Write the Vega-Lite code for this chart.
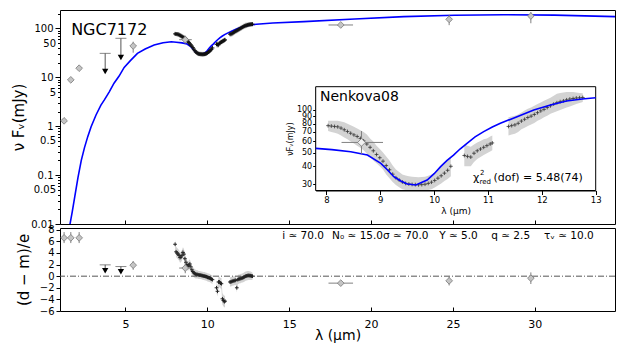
{
  "$schema": "https://vega.github.io/schema/vega-lite/v6.json",
  "padding": {"left": 11, "top": 8, "right": 12, "bottom": 0},
  "spacing": 4,
  "bounds": "flush",
  "config": {
    "font": "DejaVu Sans",
    "view": {"stroke": "black", "strokeWidth": 1},
    "axis": {"grid": false, "labelFont": "DejaVu Sans", "titleFont": "DejaVu Sans", "labelColor": "black", "titleColor": "black", "tickColor": "black", "domainColor": "black", "titleFontWeight": "normal", "labelFontSize": 10, "labelOverlap": false, "labelFlush": false}
  },
  "datasets": {
    "model": [
      {"lam": 1.55, "f": 0.007}, {"lam": 1.6, "f": 0.0095}, {"lam": 1.75, "f": 0.018}, {"lam": 1.9, "f": 0.036}, {"lam": 2.1, "f": 0.09},
      {"lam": 2.3, "f": 0.2}, {"lam": 2.5, "f": 0.37}, {"lam": 2.7, "f": 0.62}, {"lam": 2.9, "f": 0.98},
      {"lam": 3.2, "f": 1.7}, {"lam": 3.5, "f": 2.7}, {"lam": 3.72, "f": 3.5}, {"lam": 4.0, "f": 5.0},
      {"lam": 4.3, "f": 7.6}, {"lam": 4.6, "f": 10.5}, {"lam": 4.92, "f": 16}, {"lam": 5.3, "f": 22},
      {"lam": 5.73, "f": 31}, {"lam": 6.2, "f": 38}, {"lam": 6.75, "f": 46}, {"lam": 7.3, "f": 51},
      {"lam": 7.8, "f": 53.6}, {"lam": 8.1, "f": 52.5}, {"lam": 8.45, "f": 50.7}, {"lam": 8.76, "f": 48.1},
      {"lam": 9.01, "f": 42}, {"lam": 9.13, "f": 37.8}, {"lam": 9.25, "f": 33.8}, {"lam": 9.38, "f": 31.5},
      {"lam": 9.5, "f": 30}, {"lam": 9.66, "f": 29.5}, {"lam": 9.87, "f": 32}, {"lam": 10.0, "f": 35.5},
      {"lam": 10.12, "f": 39.8}, {"lam": 10.24, "f": 44}, {"lam": 10.36, "f": 48}, {"lam": 10.48, "f": 53},
      {"lam": 10.61, "f": 58.2}, {"lam": 10.76, "f": 64.5}, {"lam": 10.92, "f": 70.3}, {"lam": 11.08, "f": 75.8},
      {"lam": 11.23, "f": 80.5}, {"lam": 11.54, "f": 89.7}, {"lam": 11.85, "f": 100}, {"lam": 12.16, "f": 108.5},
      {"lam": 12.46, "f": 115.8}, {"lam": 12.75, "f": 119.5}, {"lam": 13.0, "f": 122},
      {"lam": 14.0, "f": 130}, {"lam": 15.9, "f": 138}, {"lam": 19.0, "f": 156}, {"lam": 22.0, "f": 175},
      {"lam": 25.1, "f": 186}, {"lam": 28.1, "f": 191}, {"lam": 31.2, "f": 188}, {"lam": 35.0, "f": 175}
    ],
    "spec": [
      {"seg": 1, "lam": 8.03, "f": 77.5, "lo": 71, "hi": 84, "r": 5.5, "rlo": 4.6, "rhi": 6.3},
      {"seg": 1, "lam": 8.09, "f": 77, "lo": 70, "hi": 84, "r": 4.2, "rlo": 3.3, "rhi": 5.1},
      {"seg": 1, "lam": 8.15, "f": 76.5, "lo": 69, "hi": 84, "r": 4.0, "rlo": 3.1, "rhi": 4.9},
      {"seg": 1, "lam": 8.21, "f": 76, "lo": 68, "hi": 84, "r": 3.8, "rlo": 2.9, "rhi": 4.7},
      {"seg": 1, "lam": 8.27, "f": 74.5, "lo": 66, "hi": 83, "r": 3.6, "rlo": 2.7, "rhi": 4.5},
      {"seg": 1, "lam": 8.33, "f": 72.5, "lo": 64, "hi": 82, "r": 3.2, "rlo": 2.3, "rhi": 4.1},
      {"seg": 1, "lam": 8.39, "f": 70.5, "lo": 62, "hi": 80, "r": 3.3, "rlo": 2.4, "rhi": 4.2},
      {"seg": 1, "lam": 8.45, "f": 68.5, "lo": 60, "hi": 78, "r": 3.6, "rlo": 2.7, "rhi": 4.5},
      {"seg": 1, "lam": 8.51, "f": 66.7, "lo": 58, "hi": 76, "r": 4.1, "rlo": 3.2, "rhi": 5.0},
      {"seg": 1, "lam": 8.57, "f": 65, "lo": 56, "hi": 74, "r": 3.8, "rlo": 2.9, "rhi": 4.7},
      {"seg": 1, "lam": 8.63, "f": 63, "lo": 54, "hi": 72, "r": 3.0, "rlo": 2.1, "rhi": 3.9},
      {"seg": 1, "lam": 8.69, "f": 60.5, "lo": 52, "hi": 70, "r": 2.4, "rlo": 1.5, "rhi": 3.3},
      {"seg": 1, "lam": 8.75, "f": 57.5, "lo": 49, "hi": 67, "r": 2.0, "rlo": 1.2, "rhi": 2.8},
      {"seg": 1, "lam": 8.81, "f": 54.5, "lo": 47, "hi": 63, "r": 1.7, "rlo": 0.9, "rhi": 2.5},
      {"seg": 1, "lam": 8.87, "f": 51.5, "lo": 44, "hi": 60, "r": 1.9, "rlo": 1.1, "rhi": 2.7},
      {"seg": 1, "lam": 8.93, "f": 48.5, "lo": 42, "hi": 56, "r": 2.1, "rlo": 1.3, "rhi": 2.9},
      {"seg": 1, "lam": 8.99, "f": 46, "lo": 40, "hi": 53, "r": 1.6, "rlo": 0.8, "rhi": 2.4},
      {"seg": 1, "lam": 9.05, "f": 43.5, "lo": 38, "hi": 50, "r": 1.1, "rlo": 0.3, "rhi": 1.9},
      {"seg": 1, "lam": 9.11, "f": 40.5, "lo": 35, "hi": 47, "r": 0.8, "rlo": 0.0, "rhi": 1.6},
      {"seg": 1, "lam": 9.17, "f": 37.8, "lo": 33, "hi": 44, "r": 0.6, "rlo": -0.2, "rhi": 1.4},
      {"seg": 1, "lam": 9.23, "f": 35.2, "lo": 31, "hi": 40.5, "r": 0.45, "rlo": -0.3, "rhi": 1.2},
      {"seg": 1, "lam": 9.29, "f": 33.2, "lo": 29.5, "hi": 38, "r": 0.35, "rlo": -0.4, "rhi": 1.1},
      {"seg": 1, "lam": 9.35, "f": 32, "lo": 28.5, "hi": 36.5, "r": 0.3, "rlo": -0.4, "rhi": 1.0},
      {"seg": 1, "lam": 9.41, "f": 31, "lo": 27.5, "hi": 35, "r": 0.28, "rlo": -0.4, "rhi": 1.0},
      {"seg": 1, "lam": 9.47, "f": 30.3, "lo": 27.2, "hi": 34.5, "r": 0.22, "rlo": -0.5, "rhi": 0.9},
      {"seg": 1, "lam": 9.53, "f": 30, "lo": 27.2, "hi": 34, "r": 0.2, "rlo": -0.5, "rhi": 0.9},
      {"seg": 1, "lam": 9.59, "f": 29.8, "lo": 27.2, "hi": 33.8, "r": 0.17, "rlo": -0.5, "rhi": 0.85},
      {"seg": 1, "lam": 9.65, "f": 29.7, "lo": 27.2, "hi": 33.6, "r": 0.12, "rlo": -0.55, "rhi": 0.8},
      {"seg": 1, "lam": 9.71, "f": 29.6, "lo": 27.2, "hi": 33.5, "r": 0.08, "rlo": -0.6, "rhi": 0.75},
      {"seg": 1, "lam": 9.77, "f": 29.7, "lo": 27.2, "hi": 33.6, "r": 0.03, "rlo": -0.65, "rhi": 0.7},
      {"seg": 1, "lam": 9.83, "f": 29.9, "lo": 27.2, "hi": 33.8, "r": 0.0, "rlo": -0.7, "rhi": 0.7},
      {"seg": 1, "lam": 9.89, "f": 30.3, "lo": 27.2, "hi": 34.3, "r": -0.05, "rlo": -0.75, "rhi": 0.65},
      {"seg": 1, "lam": 9.95, "f": 30.9, "lo": 27.5, "hi": 35, "r": -0.1, "rlo": -0.8, "rhi": 0.6},
      {"seg": 1, "lam": 10.01, "f": 31.8, "lo": 28.3, "hi": 36, "r": -0.2, "rlo": -0.9, "rhi": 0.5},
      {"seg": 1, "lam": 10.07, "f": 33, "lo": 29.3, "hi": 37.5, "r": -0.25, "rlo": -0.95, "rhi": 0.45},
      {"seg": 1, "lam": 10.13, "f": 34.3, "lo": 30.3, "hi": 39.5, "r": -0.3, "rlo": -1.0, "rhi": 0.4},
      {"seg": 1, "lam": 10.19, "f": 35.8, "lo": 31.5, "hi": 41.5, "r": -0.4, "rlo": -1.1, "rhi": 0.3},
      {"seg": 1, "lam": 10.25, "f": 37.5, "lo": 32.5, "hi": 44, "r": -0.5, "rlo": -1.2, "rhi": 0.2},
      {"seg": 1, "lam": 10.31, "f": 40, "lo": 34, "hi": 47, "r": -0.6, "rlo": -1.4, "rhi": 0.2},
      {"seg": 2, "lam": 10.56, "f": 47.7, "lo": 40, "hi": 57, "r": -2.0, "rlo": -2.9, "rhi": -1.1},
      {"seg": 2, "lam": 10.62, "f": 47, "lo": 40, "hi": 56, "r": -2.6, "rlo": -3.5, "rhi": -1.7},
      {"seg": 2, "lam": 10.68, "f": 46.5, "lo": 40, "hi": 55, "r": -1.0, "rlo": -1.9, "rhi": -0.1},
      {"seg": 2, "lam": 10.74, "f": 49.5, "lo": 43, "hi": 57, "r": -1.0, "rlo": -1.9, "rhi": -0.1},
      {"seg": 2, "lam": 10.80, "f": 51.5, "lo": 45, "hi": 59, "r": -1.2, "rlo": -2.1, "rhi": -0.3},
      {"seg": 2, "lam": 10.86, "f": 53, "lo": 46.5, "hi": 60.5, "r": -1.3, "rlo": -2.3, "rhi": -0.3},
      {"seg": 2, "lam": 10.92, "f": 54.5, "lo": 48, "hi": 62, "r": -3.9, "rlo": -4.9, "rhi": -2.9},
      {"seg": 2, "lam": 10.98, "f": 56, "lo": 49.5, "hi": 63, "r": -4.2, "rlo": -5.2, "rhi": -3.2},
      {"seg": 2, "lam": 11.04, "f": 57.5, "lo": 51, "hi": 65, "r": -4.4, "rlo": -5.4, "rhi": -3.4},
      {"seg": 2, "lam": 11.08, "f": 58.5, "lo": 52, "hi": 66, "r": -4.3, "rlo": -5.3, "rhi": -3.3},
      {"seg": 3, "lam": 11.38, "f": 76.5, "lo": 66, "hi": 89, "r": -1.0, "rlo": -1.8, "rhi": -0.2},
      {"seg": 3, "lam": 11.44, "f": 77.5, "lo": 67, "hi": 90, "r": -1.0, "rlo": -1.8, "rhi": -0.2},
      {"seg": 3, "lam": 11.50, "f": 78.5, "lo": 68, "hi": 91, "r": -0.9, "rlo": -1.7, "rhi": -0.1},
      {"seg": 3, "lam": 11.56, "f": 80.5, "lo": 70, "hi": 93, "r": -0.85, "rlo": -1.6, "rhi": -0.1},
      {"seg": 3, "lam": 11.62, "f": 83.5, "lo": 73, "hi": 96, "r": -0.8, "rlo": -1.6, "rhi": 0.0},
      {"seg": 3, "lam": 11.68, "f": 86, "lo": 75, "hi": 99, "r": -0.75, "rlo": -1.5, "rhi": 0.0},
      {"seg": 3, "lam": 11.74, "f": 88.5, "lo": 77, "hi": 102, "r": -0.7, "rlo": -1.5, "rhi": 0.1},
      {"seg": 3, "lam": 11.80, "f": 90.5, "lo": 79, "hi": 104, "r": -2.0, "rlo": -2.8, "rhi": -1.2},
      {"seg": 3, "lam": 11.86, "f": 93, "lo": 81, "hi": 107, "r": -0.6, "rlo": -1.4, "rhi": 0.2},
      {"seg": 3, "lam": 11.92, "f": 95.7, "lo": 84, "hi": 110, "r": -0.5, "rlo": -1.3, "rhi": 0.3},
      {"seg": 3, "lam": 11.98, "f": 98.5, "lo": 86, "hi": 113, "r": -0.45, "rlo": -1.2, "rhi": 0.3},
      {"seg": 3, "lam": 12.04, "f": 101, "lo": 89, "hi": 116, "r": -0.4, "rlo": -1.2, "rhi": 0.4},
      {"seg": 3, "lam": 12.10, "f": 104, "lo": 91, "hi": 119, "r": -0.35, "rlo": -1.1, "rhi": 0.4},
      {"seg": 3, "lam": 12.16, "f": 107, "lo": 94, "hi": 122, "r": -0.3, "rlo": -1.1, "rhi": 0.5},
      {"seg": 3, "lam": 12.22, "f": 110, "lo": 96, "hi": 126, "r": -0.2, "rlo": -1.0, "rhi": 0.6},
      {"seg": 3, "lam": 12.28, "f": 112.5, "lo": 98, "hi": 130, "r": -0.1, "rlo": -0.9, "rhi": 0.7},
      {"seg": 3, "lam": 12.34, "f": 114.5, "lo": 100, "hi": 132, "r": 0.0, "rlo": -0.8, "rhi": 0.8},
      {"seg": 3, "lam": 12.40, "f": 116, "lo": 102, "hi": 133, "r": 0.05, "rlo": -0.75, "rhi": 0.85},
      {"seg": 3, "lam": 12.46, "f": 118, "lo": 104, "hi": 134, "r": 0.1, "rlo": -0.7, "rhi": 0.9},
      {"seg": 3, "lam": 12.52, "f": 119.5, "lo": 106, "hi": 134, "r": 0.12, "rlo": -0.65, "rhi": 0.9},
      {"seg": 3, "lam": 12.58, "f": 120.5, "lo": 108, "hi": 134, "r": 0.1, "rlo": -0.65, "rhi": 0.85},
      {"seg": 3, "lam": 12.64, "f": 121.5, "lo": 110, "hi": 133, "r": 0.08, "rlo": -0.65, "rhi": 0.8},
      {"seg": 3, "lam": 12.70, "f": 122, "lo": 112, "hi": 132, "r": 0.03, "rlo": -0.65, "rhi": 0.7},
      {"seg": 3, "lam": 12.76, "f": 122.5, "lo": 114, "hi": 131, "r": 0.0, "rlo": -0.6, "rhi": 0.6}
    ],
    "phot": [
      {"lam": 1.25, "f": 1.29, "flo": 1.2, "fhi": 1.4, "r": 6.6, "rlo": 5.7, "rhi": 7.6},
      {"lam": 1.66, "f": 8.9, "flo": 8.3, "fhi": 9.6, "r": 6.6, "rlo": 5.7, "rhi": 7.6},
      {"lam": 2.17, "f": 15.4, "flo": 14.4, "fhi": 16.5, "r": 6.6, "rlo": 5.7, "rhi": 7.6},
      {"lam": 5.47, "f": 43.9, "flo": 32, "fhi": 53.7, "r": 1.9, "rlo": 1.1, "rhi": 2.6},
      {"lam": 8.65, "f": 59, "flo": 49, "fhi": 71, "xlo": 8.28, "xhi": 9.05, "r": 1.4, "rlo": 0.5, "rhi": 2.3},
      {"lam": 18.15, "f": 118, "flo": 112, "fhi": 124, "xlo": 17.4, "xhi": 18.9, "r": -1.2, "rlo": -1.5, "rhi": -0.9},
      {"lam": 24.77, "f": 154, "flo": 117, "fhi": 191, "r": -0.8, "rlo": -1.6, "rhi": 0.0},
      {"lam": 29.76, "f": 180, "flo": 128, "fhi": 217, "r": -0.35, "rlo": -1.35, "rhi": 0.65}
    ],
    "ul": [
      {"lam": 3.76, "ul": 31, "tip": 13.2, "rul": 1.95, "rtip": 0.92},
      {"lam": 4.72, "ul": 63, "tip": 25.6, "rul": 1.66, "rtip": 0.75}
    ]
  },
  "vconcat": [
    {
      "width": 555,
      "height": 214,
      "resolve": {"scale": {"x": "independent", "y": "independent"}, "axis": {"x": "independent", "y": "independent"}},
      "layer": [
        {
          "layer": [
            {
              "data": {"name": "spec"},
              "mark": {"type": "area", "color": "#d3d3d3", "clip": true},
              "encoding": {
                "x": {"field": "lam", "type": "quantitative", "scale": {"domain": [1, 34.9], "nice": false, "zero": false},
                      "axis": {"orient": "bottom", "values": [5, 10, 15, 20, 25, 30], "labels": false, "domain": false, "tickSize": -4, "title": null}},
                "y": {"field": "lo", "type": "quantitative", "scale": {"type": "log", "domain": [0.01, 239], "nice": false},
                      "axis": {"orient": "left", "domain": false, "title": "ν Fᵥ(mJy)", "titleFontSize": 15, "titlePadding": 4, "labelPadding": 2, "labelOverlap": false,
                               "values": [0.01, 0.02, 0.03, 0.04, 0.05, 0.06, 0.07, 0.08, 0.09, 0.1, 0.2, 0.3, 0.4, 0.5, 0.6, 0.7, 0.8, 0.9, 1, 2, 3, 4, 5, 6, 7, 8, 9, 10, 20, 30, 40, 50, 60, 70, 80, 90, 100, 200],
                               "labelExpr": "indexof([0.01, 0.05, 0.1, 0.5, 1, 5, 10, 50, 100], datum.value) >= 0 ? '' + datum.value : ''",
                               "tickSize": {"condition": {"test": "indexof([0.01, 0.1, 1, 10, 100], datum.value) >= 0", "value": 5}, "value": 2.5}}},
                "y2": {"field": "hi"},
                "detail": {"field": "seg"}
              }
            },
            {
              "data": {"name": "model"},
              "mark": {"type": "line", "color": "#0000ff", "strokeWidth": 1.6, "clip": true},
              "encoding": {
                "x": {"field": "lam", "type": "quantitative"},
                "y": {"field": "f", "type": "quantitative"}
              }
            },
            {
              "data": {"name": "spec"},
              "mark": {"type": "point", "shape": "M-1,0L1,0M0,-1L0,1", "filled": false, "stroke": "#111111", "strokeWidth": 1, "size": 16, "opacity": 1},
              "encoding": {
                "x": {"field": "lam", "type": "quantitative"},
                "y": {"field": "f", "type": "quantitative"}
              }
            },
            {
              "data": {"name": "phot"},
              "mark": {"type": "rule", "color": "#808080", "strokeWidth": 1},
              "encoding": {
                "x": {"field": "lam", "type": "quantitative"},
                "y": {"field": "flo", "type": "quantitative"},
                "y2": {"field": "fhi"}
              }
            },
            {
              "data": {"name": "phot"},
              "transform": [{"filter": "isValid(datum.xlo)"}],
              "mark": {"type": "rule", "color": "#808080", "strokeWidth": 1},
              "encoding": {
                "x": {"field": "xlo", "type": "quantitative"},
                "x2": {"field": "xhi"},
                "y": {"field": "f", "type": "quantitative"}
              }
            },
            {
              "data": {"name": "phot"},
              "mark": {"type": "point", "shape": "diamond", "filled": true, "fill": "#c4c4c4", "stroke": "#7a7a7a", "strokeWidth": 0.8, "size": 45, "opacity": 1},
              "encoding": {
                "x": {"field": "lam", "type": "quantitative"},
                "y": {"field": "f", "type": "quantitative"}
              }
            },
            {
              "data": {"name": "ul"},
              "mark": {"type": "rule", "color": "#555555", "strokeWidth": 1},
              "encoding": {
                "x": {"field": "lam", "type": "quantitative"},
                "y": {"field": "ul", "type": "quantitative"},
                "y2": {"field": "tip"}
              }
            },
            {
              "data": {"name": "ul"},
              "mark": {"type": "tick", "orient": "horizontal", "color": "#555555", "thickness": 1, "size": 11},
              "encoding": {
                "x": {"field": "lam", "type": "quantitative"},
                "y": {"field": "ul", "type": "quantitative"}
              }
            },
            {
              "data": {"name": "ul"},
              "mark": {"type": "point", "shape": "triangle-down", "filled": true, "color": "black", "size": 40, "opacity": 1},
              "encoding": {
                "x": {"field": "lam", "type": "quantitative"},
                "y": {"field": "tip", "type": "quantitative"}
              }
            },
            {
              "data": {"values": [{"label": "NGC7172"}]},
              "mark": {"type": "text", "align": "left", "baseline": "middle", "fontSize": 16, "color": "black"},
              "encoding": {
                "x": {"datum": 1.68, "type": "quantitative"},
                "y": {"datum": 93, "type": "quantitative"},
                "text": {"field": "label"}
              }
            }
          ]
        },
        {
          "layer": [
            {
              "data": {"values": [{"box": "inset"}]},
              "mark": {"type": "rect", "fill": "white", "stroke": "black", "strokeWidth": 1},
              "encoding": {
                "x": {"datum": 7.8, "type": "quantitative",
                      "scale": {"domain": [7.8, 13], "range": [255.7, 535.7], "nice": false, "zero": false},
                      "axis": {"orient": "bottom", "offset": -33.5, "values": [8, 9, 10, 11, 12, 13], "format": "d", "tickSize": 4, "labelFontSize": 8.5, "labelPadding": 1, "title": "λ (μm)", "titleFontSize": 9, "titlePadding": 2}},
                "x2": {"datum": 13},
                "y": {"datum": 27, "type": "quantitative",
                      "scale": {"type": "log", "domain": [27, 146], "range": [180.5, 76.7], "nice": false},
                      "axis": {"orient": "left", "offset": -255.7, "values": [30, 40, 50, 60, 70, 80, 90, 100], "format": "d", "labelOverlap": false, "tickSize": 3, "labelFontSize": 8, "labelPadding": 1, "title": "νFᵥ(mJy)", "titleFontSize": 8, "titlePadding": 2}},
                "y2": {"datum": 146}
              }
            },
            {
              "data": {"name": "spec"},
              "mark": {"type": "area", "color": "#d3d3d3"},
              "encoding": {
                "x": {"field": "lam", "type": "quantitative"},
                "y": {"field": "lo", "type": "quantitative"},
                "y2": {"field": "hi"},
                "detail": {"field": "seg"}
              }
            },
            {
              "data": {"name": "spec"},
              "mark": {"type": "point", "shape": "M-1,0L1,0M0,-1L0,1", "filled": false, "stroke": "#333333", "strokeWidth": 0.8, "size": 14, "opacity": 1},
              "encoding": {
                "x": {"field": "lam", "type": "quantitative"},
                "y": {"field": "f", "type": "quantitative"}
              }
            },
            {
              "data": {"name": "model"},
              "transform": [{"filter": "datum.lam >= 7.8 && datum.lam <= 13"}],
              "mark": {"type": "line", "color": "#0000ff", "strokeWidth": 1.6},
              "encoding": {
                "x": {"field": "lam", "type": "quantitative"},
                "y": {"field": "f", "type": "quantitative"}
              }
            },
            {
              "data": {"name": "phot"},
              "transform": [{"filter": "datum.lam > 8 && datum.lam < 9"}],
              "mark": {"type": "rule", "color": "#808080", "strokeWidth": 1},
              "encoding": {
                "x": {"field": "lam", "type": "quantitative"},
                "y": {"field": "flo", "type": "quantitative"},
                "y2": {"field": "fhi"}
              }
            },
            {
              "data": {"name": "phot"},
              "transform": [{"filter": "datum.lam > 8 && datum.lam < 9"}],
              "mark": {"type": "rule", "color": "#808080", "strokeWidth": 1},
              "encoding": {
                "x": {"field": "xlo", "type": "quantitative"},
                "x2": {"field": "xhi"},
                "y": {"field": "f", "type": "quantitative"}
              }
            },
            {
              "data": {"name": "phot"},
              "transform": [{"filter": "datum.lam > 8 && datum.lam < 9"}],
              "mark": {"type": "point", "shape": "diamond", "filled": true, "fill": "#f2f2f2", "stroke": "#7a7a7a", "strokeWidth": 0.8, "size": 60, "opacity": 1},
              "encoding": {
                "x": {"field": "lam", "type": "quantitative"},
                "y": {"field": "f", "type": "quantitative"}
              }
            },
            {
              "data": {"values": [{"label": "Nenkova08"}]},
              "mark": {"type": "text", "align": "left", "baseline": "middle", "fontSize": 14, "color": "black"},
              "encoding": {
                "x": {"datum": 7.88, "type": "quantitative"},
                "y": {"datum": 123, "type": "quantitative"},
                "text": {"field": "label"}
              }
            },
            {
              "data": {"values": [{"label": "χ"}]},
              "mark": {"type": "text", "align": "left", "baseline": "alphabetic", "fontSize": 11, "color": "black"},
              "encoding": {
                "x": {"datum": 10.72, "type": "quantitative"},
                "y": {"datum": 31.5, "type": "quantitative"},
                "text": {"field": "label"}
              }
            },
            {
              "data": {"values": [{"label": "2"}]},
              "mark": {"type": "text", "align": "left", "baseline": "alphabetic", "fontSize": 7, "dx": 7, "dy": -6, "color": "black"},
              "encoding": {
                "x": {"datum": 10.72, "type": "quantitative"},
                "y": {"datum": 31.5, "type": "quantitative"},
                "text": {"field": "label"}
              }
            },
            {
              "data": {"values": [{"label": "red"}]},
              "mark": {"type": "text", "align": "left", "baseline": "alphabetic", "fontSize": 7, "dx": 6.5, "dy": 3, "color": "black"},
              "encoding": {
                "x": {"datum": 10.72, "type": "quantitative"},
                "y": {"datum": 31.5, "type": "quantitative"},
                "text": {"field": "label"}
              }
            },
            {
              "data": {"values": [{"label": "(dof) = 5.48(74)"}]},
              "mark": {"type": "text", "align": "left", "baseline": "alphabetic", "fontSize": 11, "dx": 20.5, "color": "black"},
              "encoding": {
                "x": {"datum": 10.72, "type": "quantitative"},
                "y": {"datum": 31.5, "type": "quantitative"},
                "text": {"field": "label"}
              }
            }
          ]
        }
      ]
    },
    {
      "width": 555,
      "height": 83,
      "layer": [
        {
          "data": {"name": "spec"},
          "mark": {"type": "area", "color": "#d3d3d3"},
          "encoding": {
            "x": {"field": "lam", "type": "quantitative", "scale": {"domain": [1, 34.9], "nice": false, "zero": false},
                  "axis": {"orient": "bottom", "domain": false, "values": [5, 10, 15, 20, 25, 30], "labelOverlap": false, "tickSize": -4, "labelFontSize": 11, "labelPadding": 11, "title": "λ (μm)", "titleFontSize": 14, "titlePadding": -1}},
            "y": {"field": "rlo", "type": "quantitative",
                  "scale": {"domain": [-6, 8.3], "nice": false, "zero": false},
                  "axis": {"orient": "left", "domain": false, "values": [-6, -4, -2, 0, 2, 4, 6, 8], "tickCount": 8, "labelOverlap": false, "labelExpr": "format(datum.value, 'd')", "tickSize": 4, "labelPadding": 2, "title": "(d − m)/e", "titleFontSize": 15, "titlePadding": 8}},
            "y2": {"field": "rhi"},
            "detail": {"field": "seg"}
          }
        },
        {
          "data": {"values": [{"zero": 0}]},
          "mark": {"type": "rule", "color": "#555555", "strokeWidth": 1, "strokeDash": [6, 2, 1, 2]},
          "encoding": {
            "y": {"field": "zero", "type": "quantitative"}
          }
        },
        {
          "data": {"name": "spec"},
          "mark": {"type": "point", "shape": "M-1,0L1,0M0,-1L0,1", "filled": false, "stroke": "#222222", "strokeWidth": 1, "size": 14, "opacity": 1},
          "encoding": {
            "x": {"field": "lam", "type": "quantitative"},
            "y": {"field": "r", "type": "quantitative"}
          }
        },
        {
          "data": {"name": "phot"},
          "mark": {"type": "rule", "color": "#808080", "strokeWidth": 1},
          "encoding": {
            "x": {"field": "lam", "type": "quantitative"},
            "y": {"field": "rlo", "type": "quantitative"},
            "y2": {"field": "rhi"}
          }
        },
        {
          "data": {"name": "phot"},
          "transform": [{"filter": "isValid(datum.xlo)"}],
          "mark": {"type": "rule", "color": "#808080", "strokeWidth": 1},
          "encoding": {
            "x": {"field": "xlo", "type": "quantitative"},
            "x2": {"field": "xhi"},
            "y": {"field": "r", "type": "quantitative"}
          }
        },
        {
          "data": {"name": "phot"},
          "mark": {"type": "point", "shape": "diamond", "filled": true, "fill": "#c4c4c4", "stroke": "#7a7a7a", "strokeWidth": 0.8, "size": 45, "opacity": 1},
          "encoding": {
            "x": {"field": "lam", "type": "quantitative"},
            "y": {"field": "r", "type": "quantitative"}
          }
        },
        {
          "data": {"name": "ul"},
          "mark": {"type": "rule", "color": "#555555", "strokeWidth": 1},
          "encoding": {
            "x": {"field": "lam", "type": "quantitative"},
            "y": {"field": "rul", "type": "quantitative"},
            "y2": {"field": "rtip"}
          }
        },
        {
          "data": {"name": "ul"},
          "mark": {"type": "tick", "orient": "horizontal", "color": "#555555", "thickness": 1, "size": 11},
          "encoding": {
            "x": {"field": "lam", "type": "quantitative"},
            "y": {"field": "rul", "type": "quantitative"}
          }
        },
        {
          "data": {"name": "ul"},
          "mark": {"type": "point", "shape": "triangle-down", "filled": true, "color": "black", "size": 40, "opacity": 1},
          "encoding": {
            "x": {"field": "lam", "type": "quantitative"},
            "y": {"field": "rtip", "type": "quantitative"}
          }
        },
        {
          "data": {"values": [{"label": "i ≃ 70.0"}]},
          "mark": {"type": "text", "align": "left", "baseline": "middle", "fontSize": 10.5, "color": "black"},
          "encoding": {"x": {"datum": 14.57, "type": "quantitative"}, "y": {"datum": 6.85, "type": "quantitative"}, "text": {"field": "label"}}
        },
        {
          "data": {"values": [{"label": "N₀ ≃ 15.0σ ≃ 70.0"}]},
          "mark": {"type": "text", "align": "left", "baseline": "middle", "fontSize": 10.5, "color": "black"},
          "encoding": {"x": {"datum": 17.62, "type": "quantitative"}, "y": {"datum": 6.85, "type": "quantitative"}, "text": {"field": "label"}}
        },
        {
          "data": {"values": [{"label": "Y ≃ 5.0"}]},
          "mark": {"type": "text", "align": "left", "baseline": "middle", "fontSize": 10.5, "color": "black"},
          "encoding": {"x": {"datum": 24.16, "type": "quantitative"}, "y": {"datum": 6.85, "type": "quantitative"}, "text": {"field": "label"}}
        },
        {
          "data": {"values": [{"label": "q ≃ 2.5"}]},
          "mark": {"type": "text", "align": "left", "baseline": "middle", "fontSize": 10.5, "color": "black"},
          "encoding": {"x": {"datum": 27.34, "type": "quantitative"}, "y": {"datum": 6.85, "type": "quantitative"}, "text": {"field": "label"}}
        },
        {
          "data": {"values": [{"label": "τᵥ ≃ 10.0"}]},
          "mark": {"type": "text", "align": "left", "baseline": "middle", "fontSize": 10.5, "color": "black"},
          "encoding": {"x": {"datum": 30.57, "type": "quantitative"}, "y": {"datum": 6.85, "type": "quantitative"}, "text": {"field": "label"}}
        }
      ]
    }
  ]
}
